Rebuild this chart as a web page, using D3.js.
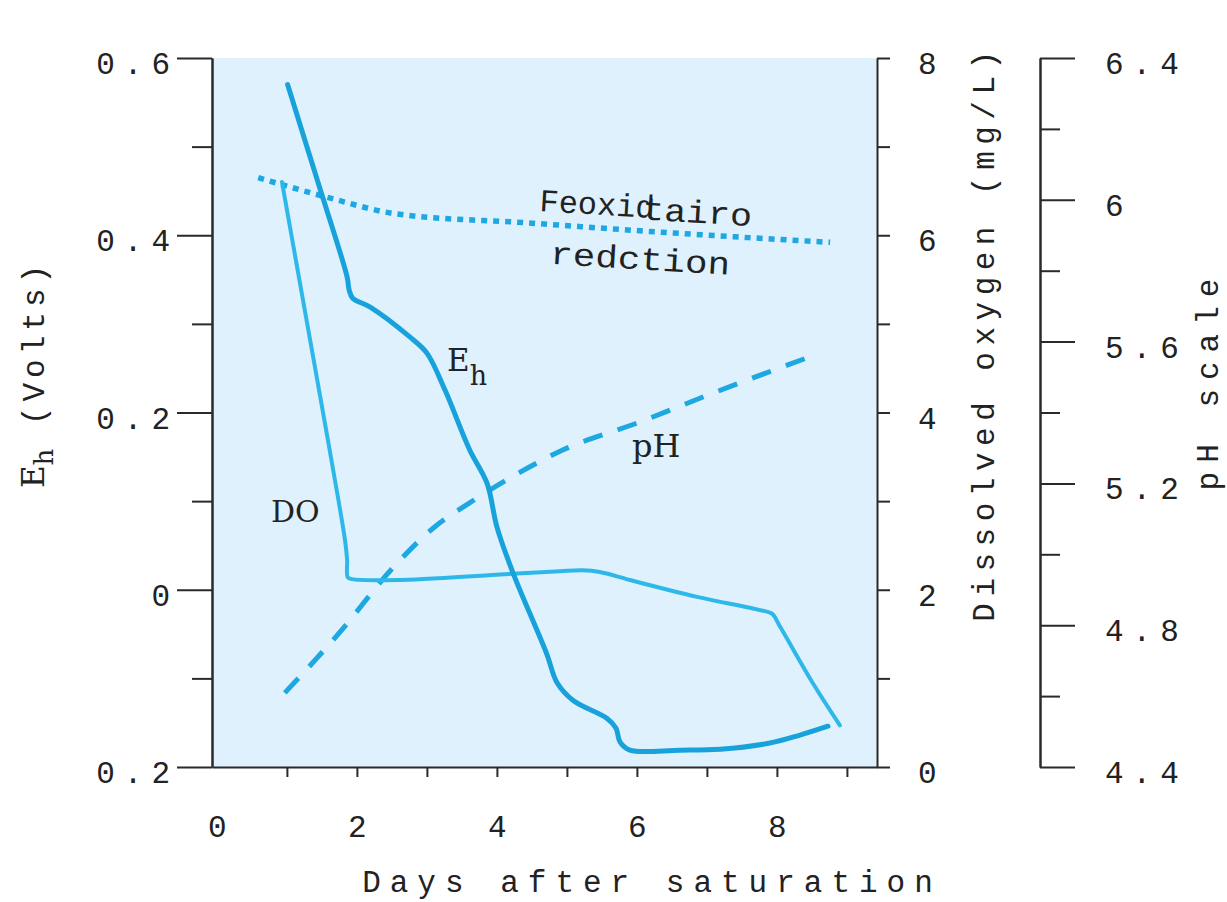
<!DOCTYPE html>
<html>
<head>
<meta charset="utf-8">
<script src="https://cdn.jsdelivr.net/npm/d3@7"></script>
<style>
  body { margin: 0; background: #fff; }
  svg text { fill: #222; }
</style>
</head>
<body>
<svg id="chart"></svg>
<script>
// --- data ---
var ehDays  = [1.01, 1.443, 1.86, 1.89, 1.94, 2.19, 2.76, 3.00, 3.26, 3.61, 3.86, 4.00, 4.23, 4.71, 4.86, 5.09, 5.57, 5.70, 5.76, 5.90, 6.61, 7.19, 7.90, 8.33, 8.73];
var ehVolts = [0.570, 0.460, 0.353, 0.338, 0.329, 0.319, 0.285, 0.267, 0.225, 0.158, 0.120, 0.071, 0.019, -0.072, -0.105, -0.125, -0.145, -0.156, -0.172, -0.181, -0.181, -0.180, -0.173, -0.164, -0.154];

var doDays = [0.93, 1.27, 1.61, 1.83, 1.86, 1.87, 1.93, 2.57, 4.00, 4.90, 5.23, 5.47, 5.90, 6.86, 7.76, 7.93, 8.04, 8.51, 8.90];
var doMgL  = [6.60, 5.09, 3.58, 2.56, 2.34, 2.14, 2.12, 2.11, 2.17, 2.21, 2.22, 2.20, 2.11, 1.92, 1.77, 1.73, 1.59, 0.95, 0.47];

var phDays   = [0.97, 1.76, 2.51, 3.11, 3.61, 4.14, 4.94, 6.04, 7.09, 8.47];
var phValues = [4.609, 4.781, 4.961, 5.077, 5.145, 5.210, 5.294, 5.373, 5.455, 5.557];

var feDays  = [0.59, 1.57, 2.57, 4.43, 6.43, 8.76];
var feVolts = [0.465, 0.443, 0.424, 0.414, 0.403, 0.392];

var dayTicks = [1, 2, 3, 4, 5, 6, 7, 8, 9];
var dayLabels = [0, 2, 4, 6, 8];
var ehTicks = [-0.2, 0, 0.2, 0.4, 0.6];
var ehTickLabels = ['0.2', '0', '0.2', '0.4', '0.6'];
var ehMinor = [-0.1, 0.1, 0.3, 0.5];
var doTicks = [0, 1, 2, 3, 4, 5, 6, 7, 8];
var phTicks = [4.4, 4.8, 5.2, 5.6, 6, 6.4];
var phMinor = [4.6, 5.0, 5.4, 5.8, 6.2];

// --- layout ---
var chartWidth = 1227, chartHeight = 902,
    plotLeft = 212, plotRight = 877, plotTop = 58, plotBottom = 767,
    phAxisX = 1040,
    monoFont = 'Liberation Mono, Courier New, monospace',
    serifFont = 'DejaVu Serif, serif',
    axisColor = '#2a2a2a';

var svg = d3.select('svg#chart')
    .attr('width', chartWidth)
    .attr('height', chartHeight);

var x = d3.scaleLinear().domain([-0.07, 9.43]).range([plotLeft, plotRight]);
var yEh = d3.scaleLinear().domain([-0.2, 0.6]).range([plotBottom, plotTop]);
var yDo = d3.scaleLinear().domain([0, 8]).range([plotBottom, plotTop]);
var yPh = d3.scaleLinear().domain([4.4, 6.4]).range([plotBottom, plotTop]);

svg.append('rect')
    .attr('x', plotLeft)
    .attr('y', plotTop)
    .attr('width', plotRight - plotLeft)
    .attr('height', plotBottom - plotTop)
    .attr('fill', '#dff1fc');

function styleAxis(g) {
    g.selectAll('path, line').attr('stroke', axisColor).attr('stroke-width', 2);
    g.selectAll('text')
        .attr('font-family', monoFont)
        .attr('font-size', 31)
        .attr('letter-spacing', 9)
        .attr('fill', '#222');
}

// bottom axis: ticks at every day, labels every second day
svg.append('g')
    .attr('transform', 'translate(0,' + plotBottom + ')')
    .call(d3.axisBottom(x).tickValues(dayTicks).tickSize(10).tickSizeOuter(0).tickFormat(''))
    .call(styleAxis);

svg.append('g')
    .attr('transform', 'translate(0,' + plotBottom + ')')
    .call(d3.axisBottom(x).tickValues(dayLabels).tickSize(0).tickFormat(d3.format('d')))
    .call(function(g) { g.select('.domain').remove(); })
    .call(styleAxis)
    .call(function(g) { g.selectAll('text').attr('y', 70).attr('dy', 0).attr('dx', 4.5); });

// left axis: Eh
svg.append('g')
    .attr('transform', 'translate(' + plotLeft + ',0)')
    .call(d3.axisLeft(yEh).tickValues(ehMinor).tickSize(20).tickSizeOuter(0).tickFormat(''))
    .call(styleAxis);

svg.append('g')
    .attr('transform', 'translate(' + plotLeft + ',0)')
    .call(d3.axisLeft(yEh).tickValues(ehTicks).tickSize(35).tickSizeOuter(0).tickPadding(-2)
        .tickFormat(function(d, i) { return ehTickLabels[i]; }))
    .call(styleAxis)
    .call(function(g) { g.selectAll('text').attr('dy', '0.5em'); });

// right axis: dissolved oxygen
svg.append('g')
    .attr('transform', 'translate(' + plotRight + ',0)')
    .call(d3.axisRight(yDo).tickValues(doTicks).tickSize(13).tickSizeOuter(0).tickPadding(28)
        .tickFormat(function(d) { return d % 2 === 0 ? d : ''; }))
    .call(styleAxis)
    .call(function(g) { g.selectAll('text').attr('dy', '0.5em'); });

// far right axis: pH
svg.append('g')
    .attr('transform', 'translate(' + phAxisX + ',0)')
    .call(d3.axisRight(yPh).tickValues(phMinor).tickSize(20).tickSizeOuter(0).tickFormat(''))
    .call(styleAxis);

svg.append('g')
    .attr('transform', 'translate(' + phAxisX + ',0)')
    .call(d3.axisRight(yPh).tickValues(phTicks).tickSize(35).tickSizeOuter(0).tickPadding(30)
        .tickFormat(d3.format('')))
    .call(styleAxis)
    .call(function(g) { g.selectAll('text').attr('dy', '0.5em'); });

// --- lines ---
function drawLine(days, values, yScale, color, widthPx, dash, curve) {
    var pts = days.map(function(d, i) { return [d, values[i]]; });
    var line = d3.line()
        .x(function(p) { return x(p[0]); })
        .y(function(p) { return yScale(p[1]); })
        .curve(curve);
    svg.append('path')
        .datum(pts)
        .attr('d', line)
        .attr('fill', 'none')
        .attr('stroke', color)
        .attr('stroke-width', widthPx)
        .attr('stroke-linejoin', 'round')
        .attr('stroke-linecap', dash ? 'butt' : 'round')
        .attr('stroke-dasharray', dash || null);
}

var smooth = d3.curveMonotoneX,
    bendy = d3.curveCatmullRom.alpha(0.5);

drawLine(feDays, feVolts, yEh, '#1ea8e2', 5.5, '6,6', smooth);
drawLine(phDays, phValues, yPh, '#1ea8e2', 5, '20,16', smooth);
drawLine(doDays, doMgL, yDo, '#2eb8e9', 4, null, bendy);
drawLine(ehDays, ehVolts, yEh, '#18a2dc', 5, null, bendy);

// --- in-plot labels ---
var eh = svg.append('text')
    .attr('x', 447).attr('y', 371)
    .attr('font-family', serifFont)
    .attr('font-size', 31);
eh.append('tspan').text('E');
eh.append('tspan').attr('font-size', 27).attr('dy', 14).text('h');

svg.append('text')
    .attr('x', 632).attr('y', 457)
    .attr('font-family', serifFont)
    .attr('font-size', 32)
    .text('pH');

svg.append('text')
    .attr('x', 271).attr('y', 522)
    .attr('font-family', serifFont)
    .attr('font-size', 30)
    .text('DO');

var feLabel = svg.append('g')
    .attr('transform', 'translate(539,211) rotate(3.5)')
    .attr('font-family', monoFont)
    .attr('font-size', 32);
feLabel.append('text').attr('x', 0).attr('y', 0).text('Feoxid');
feLabel.append('text').attr('x', 103).attr('y', 2)
    .attr('textLength', 110).attr('lengthAdjust', 'spacingAndGlyphs').text('tairo');
feLabel.append('text').attr('x', 14).attr('y', 52)
    .attr('textLength', 180).attr('lengthAdjust', 'spacingAndGlyphs').text('redction');

// --- axis titles ---
svg.append('text')
    .attr('x', 652).attr('y', 892)
    .attr('text-anchor', 'middle')
    .attr('font-family', monoFont)
    .attr('font-size', 31)
    .attr('letter-spacing', 9)
    .text('Days after saturation');

var ehTitle = svg.append('text')
    .attr('transform', 'translate(44,374) rotate(-90)')
    .attr('text-anchor', 'middle');
ehTitle.append('tspan').attr('font-family', serifFont).attr('font-size', 31).text('E');
ehTitle.append('tspan').attr('font-family', serifFont).attr('font-size', 26).attr('dy', 9).text('h');
ehTitle.append('tspan').attr('font-family', monoFont).attr('font-size', 31)
    .attr('letter-spacing', 5).attr('dy', -9).text(' (Volts)');

svg.append('text')
    .attr('transform', 'translate(994,333) rotate(-90)')
    .attr('text-anchor', 'middle')
    .attr('font-family', monoFont)
    .attr('font-size', 31)
    .attr('letter-spacing', 6.5)
    .text('Dissolved oxygen (mg/L)');

svg.append('text')
    .attr('transform', 'translate(1218,380) rotate(-90)')
    .attr('text-anchor', 'middle')
    .attr('font-family', monoFont)
    .attr('font-size', 31)
    .attr('letter-spacing', 9)
    .text('pH scale');
</script>
</body>
</html>
